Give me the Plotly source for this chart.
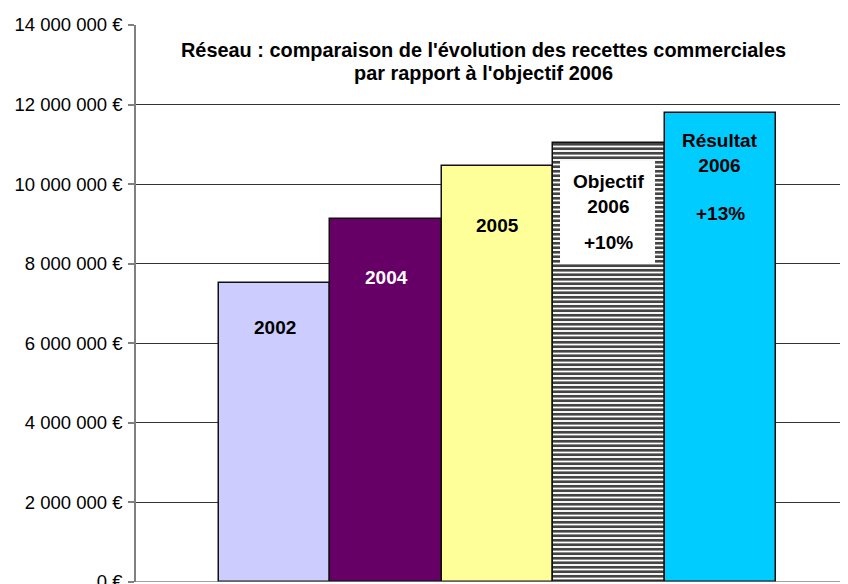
import plotly.graph_objects as go

categories = ["2002", "2004", "2005", "Objectif 2006", "Résultat 2006"]
values = [7520000, 9120000, 10450000, 11040000, 11800000]
colors = ["#CCCCFF", "#660066", "#FFFF99", "#FFFFFF", "#00CCFF"]
tick_vals = [0, 2000000, 4000000, 6000000, 8000000, 10000000, 12000000, 14000000]
tick_text = ["0 €", "2 000 000 €", "4 000 000 €", "6 000 000 €", "8 000 000 €",
             "10 000 000 €", "12 000 000 €", "14 000 000 €"]
title_lines = ["Réseau : comparaison de l'évolution des recettes commerciales",
               "par rapport à l'objectif 2006"]

FONT = "Liberation Sans, Arial, sans-serif"

# page offset (body margin 8px)
OFF = 8
PLOT_L, PLOT_T, PLOT_W, PLOT_H = 136, 25, 712, 556.7

x_idx = list(range(len(categories)))
patterns = ["", "", "", "-", ""]

fig = go.Figure()
fig.add_trace(go.Bar(
    x=x_idx, y=values, width=1,
    marker=dict(color=colors, line=dict(color="#111111", width=1.5),
                pattern=dict(shape=patterns, fgcolor="#000000", bgcolor="#FFFFFF",
                             fgopacity=1, size=4.5, solidity=0.6, fillmode="overlay")),
    hoverinfo="skip", showlegend=False,
))

lab_font = dict(family=FONT, size=19, color="#000000")
annotations = [
    dict(x=0, y=6390000, text="<b>2002</b>", font=lab_font),
    dict(x=1, y=7650000, text="<b>2004</b>", font=dict(family=FONT, size=19, color="#FFFFFF")),
    dict(x=2, y=8950000, text="<b>2005</b>", font=lab_font),
    dict(x=3, y=9750000, text="<b>Objectif</b><br><b>2006</b>", font=lab_font),
    dict(x=3, y=8530000, text="<b>+10%</b>", font=lab_font),
    dict(x=4, y=10780000, text="<b>Résultat</b><br><b>2006</b>", font=lab_font),
    dict(x=4, y=9250000, text="<b>+13%</b>", font=lab_font),
]
for a in annotations:
    a.update(xref="x", yref="y", showarrow=False, xanchor="center", yanchor="middle")

for line, ypix in zip(title_lines, [50, 73]):
    annotations.append(dict(
        xref="paper", yref="paper", x=(483 - PLOT_L) / PLOT_W,
        y=1 - (ypix - PLOT_T) / PLOT_H,
        text="<b>" + line + "</b>",
        showarrow=False, xanchor="center", yanchor="middle", align="center",
        font=dict(family=FONT, size=19.9, color="#000000"),
    ))

fig.update_layout(
    width=848 - OFF, height=584 - OFF,
    margin=dict(l=PLOT_L - OFF, r=0, t=PLOT_T - OFF,
                b=(584 - OFF) - (PLOT_T - OFF) - PLOT_H, autoexpand=False),
    paper_bgcolor="#FFFFFF", plot_bgcolor="#FFFFFF",
    bargap=0,
    annotations=annotations,
    shapes=[dict(type="rect", xref="x", yref="y", x0=2.561, x1=3.414,
                 y0=8020000, y1=10590000, fillcolor="#FFFFFF",
                 line=dict(width=0), layer="above")],
    xaxis=dict(range=[-1.245, 5.146], showticklabels=False, showgrid=False,
               zeroline=False, showline=False, ticks=""),
    yaxis=dict(range=[0, 14000000], tickvals=tick_vals, ticktext=tick_text,
               showgrid=True, gridcolor="#333333", gridwidth=1,
               zeroline=False, showline=True, linecolor="#808080", linewidth=1.5,
               ticks="outside", ticklen=6, tickcolor="#808080", tickwidth=1.5,
               ticklabelstandoff=2, ticklabeloverflow="allow",
               tickfont=dict(family=FONT, size=18.5, color="#000000")),
    font=dict(family=FONT),
)
fig.add_shape(type="line", xref="paper", yref="y", x0=0, x1=1, y0=0, y1=0,
              line=dict(color="#808080", width=1.5), layer="above")

fig.write_html("out.html")
